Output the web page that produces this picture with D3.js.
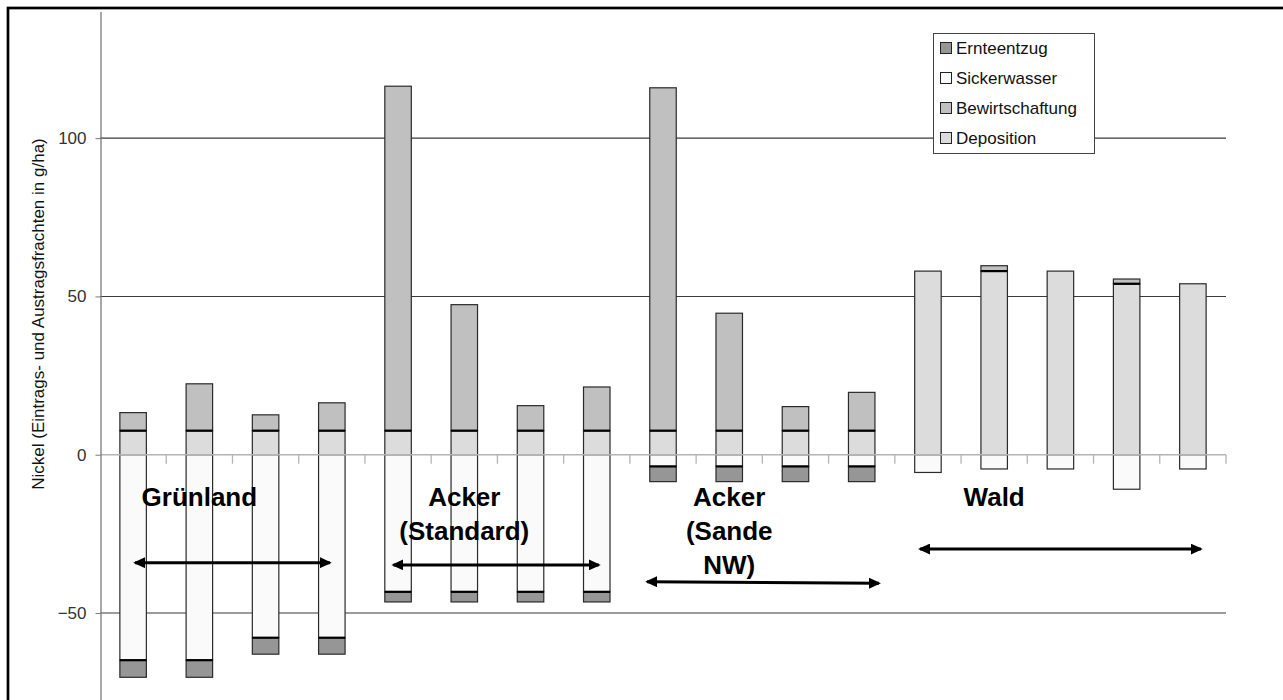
<!DOCTYPE html>
<html>
<head>
<meta charset="utf-8">
<script src="https://cdn.jsdelivr.net/npm/d3@7"></script>
<style>
  body { margin: 0; background: #fff; }
  svg { display: block; font-family: "Liberation Sans", Arial, sans-serif; }
</style>
</head>
<body>
<svg id="chart" width="1283" height="700"></svg>
<script>
// Sites, in drawing order (4 Grünland, 4 Acker Standard, 4 Acker Sande NW, 5 Wald)
const categories = [
  "G1", "G2", "G3", "G4",
  "AS1", "AS2", "AS3", "AS4",
  "AN1", "AN2", "AN3", "AN4",
  "W1", "W2", "W3", "W4", "W5"
];

// Nickel loads in g/ha (inputs positive, outputs negative)
const deposition      = [7.6, 7.6, 7.6, 7.6,   7.6, 7.6, 7.6, 7.6,    7.6, 7.6, 7.6, 7.6,   58.0, 58.0, 58.0, 54.0, 54.0];
const bewirtschaftung = [5.7, 14.8, 5.0, 8.8,  108.8, 39.8, 7.9, 13.8, 108.3, 37.1, 7.6, 12.1, 0, 1.7, 0, 1.5, 0];
const sickerwasser    = [-64.9, -64.9, -57.8, -57.8, -43.3, -43.3, -43.3, -43.3, -3.7, -3.7, -3.7, -3.7, -5.6, -4.5, -4.5, -10.9, -4.5];
const ernteentzug     = [-5.4, -5.4, -5.2, -5.2, -3.2, -3.2, -3.2, -3.2, -4.8, -4.8, -4.8, -4.8, 0, 0, 0, 0, 0];

const seriesKeys   = ["Deposition", "Bewirtschaftung", "Sickerwasser", "Ernteentzug"];
const seriesColors = ["#dcdcdc", "#c0c0c0", "#fafafa", "#969696"];
const legendOrder  = ["Ernteentzug", "Sickerwasser", "Bewirtschaftung", "Deposition"];

const yTicks = [-50, 0, 50, 100];
const yTitle = "Nickel (Eintrags- und Austragsfrachten in g/ha)";

// Group annotations: label lines, label centre (in category units), label value,
// arrow start/end (category units) and arrow values at both ends
const groupLabels   = [["Grünland"], ["Acker", "(Standard)"], ["Acker", "(Sande", "NW)"], ["Wald"]];
const groupCenters  = [1, 5, 9, 13];
const groupLabelY   = [-16.2, -16.2, -16.2, -16.2];
const arrowFrom     = [0, 3.9, 7.73, 11.85];
const arrowTo       = [3.0, 7.06, 11.29, 16.15];
const arrowYFrom    = [-34.1, -34.8, -40.1, -29.8];
const arrowYTo      = [-34.1, -34.8, -40.6, -29.8];

const table = categories.map((c, i) => ({
  cat: c,
  Deposition: deposition[i],
  Bewirtschaftung: bewirtschaftung[i],
  Sickerwasser: sickerwasser[i],
  Ernteentzug: ernteentzug[i]
}));

const svg = d3.select("#chart");
svg.append("rect").attr("width", 1283).attr("height", 700).attr("fill", "#fff");

const x = d3.scaleBand().domain(categories).range([100, 1226]).paddingInner(0.6).paddingOuter(0.3);
const y = d3.scaleLinear().domain([-80, 140]).range([708, 11.5]);
const color = d3.scaleOrdinal().domain(seriesKeys).range(seriesColors);
// position measured in category units (0 = centre of the first category)
const xAt = f => x.range()[0] + x.step() * (f + 0.5);

// horizontal gridlines
svg.append("g").selectAll("line")
  .data(yTicks.filter(v => v !== 0))
  .join("line")
  .attr("x1", 100).attr("x2", 1226)
  .attr("y1", d => y(d)).attr("y2", d => y(d))
  .attr("stroke", "#3a3a3a").attr("stroke-width", 1.1);

// stacked bars
const stacked = d3.stack().keys(seriesKeys).offset(d3.stackOffsetDiverging)(table);

const barsG = svg.append("g");
stacked.forEach(layer => {
  barsG.append("g")
    .selectAll("rect")
    .data(layer.filter(d => d[1] !== d[0]))
    .join("rect")
    .attr("x", d => x(d.data.cat))
    .attr("width", x.bandwidth())
    .attr("y", d => y(Math.max(d[0], d[1])))
    .attr("height", d => Math.abs(y(d[0]) - y(d[1])))
    .attr("fill", color(layer.key))
    .attr("stroke", "#2a2a2a")
    .attr("stroke-width", 1.2);
});

// dark separators where one segment sits on another
const sepG = svg.append("g");
const addSeparators = (key, edge) => {
  const layer = stacked.find(l => l.key === key);
  sepG.selectAll(null)
    .data(layer.filter(d => d[1] !== d[0]))
    .join("line")
    .attr("x1", d => x(d.data.cat))
    .attr("x2", d => x(d.data.cat) + x.bandwidth())
    .attr("y1", d => y(d[edge])).attr("y2", d => y(d[edge]))
    .attr("stroke", "#000").attr("stroke-width", 2.2);
};
addSeparators("Bewirtschaftung", 0);
addSeparators("Ernteentzug", 1);

// category axis on the zero line
const zeroY = y(0);
svg.append("line")
  .attr("x1", 100).attr("x2", 1226)
  .attr("y1", zeroY).attr("y2", zeroY)
  .attr("stroke", "#b4b4b4").attr("stroke-width", 1.5);
svg.append("g").selectAll("line")
  .data(d3.range(1, categories.length + 1))
  .join("line")
  .attr("x1", i => x.range()[0] + i * x.step())
  .attr("x2", i => x.range()[0] + i * x.step())
  .attr("y1", zeroY).attr("y2", zeroY + 9)
  .attr("stroke", "#b4b4b4").attr("stroke-width", 1.3);

// value axis
const yAxis = svg.append("g")
  .attr("transform", "translate(100.5,0)")
  .call(d3.axisLeft(y).tickValues(yTicks).tickSize(5).tickSizeOuter(0).tickPadding(9));
yAxis.select(".domain").attr("stroke", "#7a7a7a").attr("stroke-width", 1.3);
yAxis.selectAll(".tick line").attr("stroke", "#7a7a7a");
yAxis.selectAll(".tick text")
  .attr("font-size", 17)
  .attr("fill", "#333")
  .attr("font-family", "'Liberation Sans', Arial, sans-serif");

svg.append("text")
  .attr("transform", "translate(44,314) rotate(-90)")
  .attr("text-anchor", "middle")
  .attr("font-size", 17)
  .attr("fill", "#111")
  .text(yTitle);

// group labels
groupLabels.forEach((lines, g) => {
  const t = svg.append("text")
    .attr("text-anchor", "middle")
    .attr("font-size", 26)
    .attr("font-weight", "bold")
    .attr("fill", "#000");
  lines.forEach((ln, k) => {
    t.append("tspan")
      .attr("x", xAt(groupCenters[g]))
      .attr("y", y(groupLabelY[g]) + k * 34)
      .text(ln);
  });
});

// double-headed arrows
const defs = svg.append("defs");
["start", "end"].forEach(kind => {
  defs.append("marker")
    .attr("id", "head-" + kind)
    .attr("markerUnits", "userSpaceOnUse")
    .attr("viewBox", "0 0 12 11")
    .attr("markerWidth", 12).attr("markerHeight", 11)
    .attr("refX", kind === "end" ? 10 : 2).attr("refY", 5.5)
    .attr("orient", "auto")
    .append("path")
    .attr("d", kind === "end" ? "M0,0 L12,5.5 L0,11 Z" : "M12,0 L0,5.5 L12,11 Z")
    .attr("fill", "#000");
});
svg.append("g").selectAll("line")
  .data(d3.range(arrowFrom.length))
  .join("line")
  .attr("x1", i => xAt(arrowFrom[i]) + 2)
  .attr("x2", i => xAt(arrowTo[i]) - 2)
  .attr("y1", i => y(arrowYFrom[i]))
  .attr("y2", i => y(arrowYTo[i]))
  .attr("stroke", "#000").attr("stroke-width", 3)
  .attr("marker-start", "url(#head-start)")
  .attr("marker-end", "url(#head-end)");

// legend
const legend = svg.append("g");
legend.append("rect")
  .attr("x", 933.5).attr("y", 33.5).attr("width", 161).attr("height", 120)
  .attr("fill", "#fff").attr("stroke", "#444").attr("stroke-width", 1);
legendOrder.forEach((key, k) => {
  const cy = 48 + k * 30;
  legend.append("rect")
    .attr("x", 940.5).attr("y", cy - 5.5).attr("width", 11).attr("height", 11)
    .attr("fill", color(key)).attr("stroke", "#222").attr("stroke-width", 1);
  legend.append("text")
    .attr("x", 956).attr("y", cy + 6)
    .attr("font-size", 17).attr("fill", "#111")
    .text(key);
});

// outer frame
svg.append("rect")
  .attr("x", 8).attr("y", 8).attr("width", 1300).attr("height", 720)
  .attr("fill", "none").attr("stroke", "#000").attr("stroke-width", 2.7);
</script>
</body>
</html>
